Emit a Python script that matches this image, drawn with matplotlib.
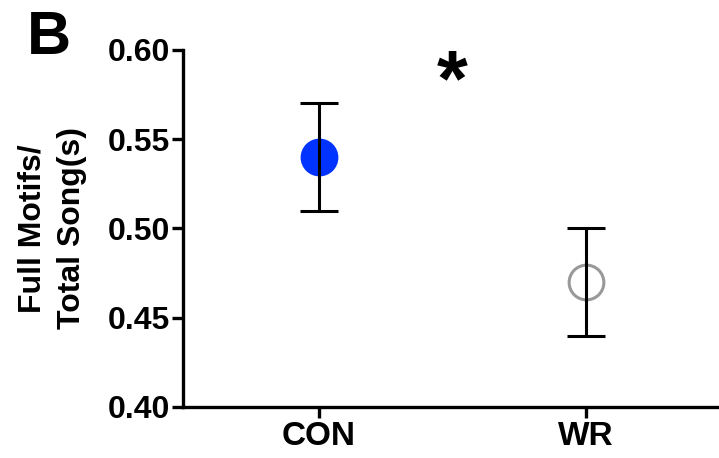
import numpy as np
import matplotlib.pyplot as plt

plt.rcParams["font.family"] = ["Liberation Sans", "DejaVu Sans"]
plt.rcParams["font.weight"] = "bold"

groups = ["CON", "WR"]
means = [0.54, 0.47]
sems = [0.03, 0.03]
face_colors = ["#0033ff", "white"]
edge_colors = ["#0033ff", "#999999"]

fig = plt.figure(figsize=(7.19, 4.58), dpi=100)
ax = fig.add_axes([0.2545, 0.1114, 0.7455, 0.7796])

x = np.arange(len(groups))
for i in range(len(groups)):
    ax.plot(x[i], means[i], "o", markersize=25, markerfacecolor=face_colors[i],
            markeredgecolor=edge_colors[i], markeredgewidth=2.2, zorder=2)
ax.errorbar(x, means, yerr=sems, fmt="none", ecolor="black", elinewidth=2.2,
            capsize=13.5, capthick=2.2, zorder=3)

ax.set_xlim(-0.51, 1.5)
ax.set_ylim(0.40, 0.60)
ax.set_yticks([0.40, 0.45, 0.50, 0.55, 0.60])
ax.set_yticklabels(["0.40", "0.45", "0.50", "0.55", "0.60"])
ax.set_xticks(x)
ax.set_xticklabels(groups)

for side in ["top", "right"]:
    ax.spines[side].set_visible(False)
for side in ["left", "bottom"]:
    ax.spines[side].set_linewidth(2.4)
ax.tick_params(axis="y", length=8, width=2.4, labelsize=23, pad=1)
ax.tick_params(axis="x", length=8, width=2.4, labelsize=24, pad=2)

ax.set_ylabel("Full Motifs/\nTotal Song(s)", fontsize=23, fontweight="bold",
              linespacing=1.4)
ax.yaxis.set_label_coords(-0.18, 0.5)

ax.text(0.5, 0.5805, "*", fontsize=57, fontweight="bold", ha="center", va="center")
fig.text(0.038, 0.978, "B", fontsize=44, fontweight="bold", va="top", ha="left")

fig.savefig("out.png", dpi=100)
